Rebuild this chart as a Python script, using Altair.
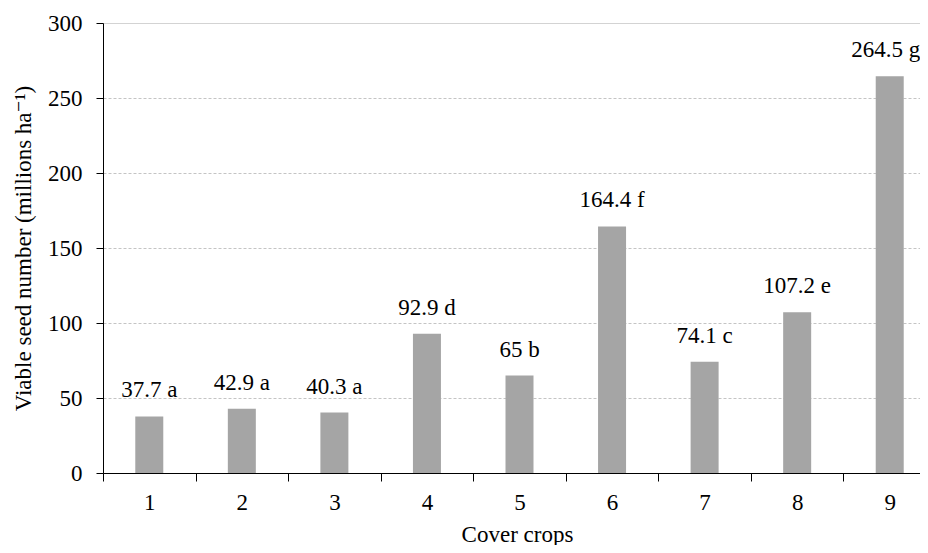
import altair as alt
import pandas as pd

crops = ["1", "2", "3", "4", "5", "6", "7", "8", "9"]
values = [37.7, 42.9, 40.3, 92.9, 65, 164.4, 74.1, 107.2, 264.5]
letters = ["a", "a", "a", "d", "b", "f", "c", "e", "g"]

df = pd.DataFrame({
    "crop": crops,
    "value": values,
    "label": [f"{v:g} {l}" for v, l in zip(values, letters)],
})

FONT = "'Liberation Serif', 'Times New Roman', 'DejaVu Serif', serif"
FS = 23

base = alt.Chart(df).encode(
    x=alt.X("crop:N", sort=crops, title="Cover crops",
            scale=alt.Scale(paddingInner=0, paddingOuter=0, range=[0, 833]),
            axis=alt.Axis(labelAngle=0, tickBand="extent", tickSize=8,
                          domainColor="black", tickColor="black",
                          labelFont=FONT, labelFontSize=FS, labelColor="black",
                          labelPadding=10, titleFont=FONT, titleFontSize=FS,
                          titleFontWeight="normal", titleColor="black",
                          titlePadding=9, titleX=414, grid=False)),
    y=alt.Y("value:Q", title="Viable seed number (millions ha⁻¹)",
            scale=alt.Scale(domain=[0, 300], nice=False),
            axis=alt.Axis(values=[0, 50, 100, 150, 200, 250, 300], tickSize=7,
                          domainColor="black", tickColor="black",
                          gridColor="#c4c4c4",
                          gridDash={"condition": {"test": "datum.value == 300", "value": [1, 0]},
                                    "value": [3, 2]},
                          labelFont=FONT, labelFontSize=FS, labelColor="black",
                          labelPadding=14, titleFont=FONT, titleFontSize=FS,
                          titleFontWeight="normal", titleColor="black",
                          titlePadding=12)),
)

bars = base.mark_bar(color="#a5a5a5", size=28)
text = base.mark_text(baseline="alphabetic", dy=-19, font=FONT, fontSize=FS,
                      color="black").encode(text="label:N").transform_filter(
    alt.datum.crop != "9")
text_last = base.mark_text(baseline="alphabetic", dy=-19, dx=-4, font=FONT,
                           fontSize=FS, color="black").encode(
    text="label:N").transform_filter(alt.datum.crop == "9")

chart = (bars + text + text_last).properties(
    width=817, height=450,
    padding={"left": 95, "top": 15, "right": 0, "bottom": 72},
    autosize=alt.AutoSizeParams(type="none"),
).configure_view(stroke=None)

chart.save("out.html", embed_options={"renderer": "svg", "actions": False})
